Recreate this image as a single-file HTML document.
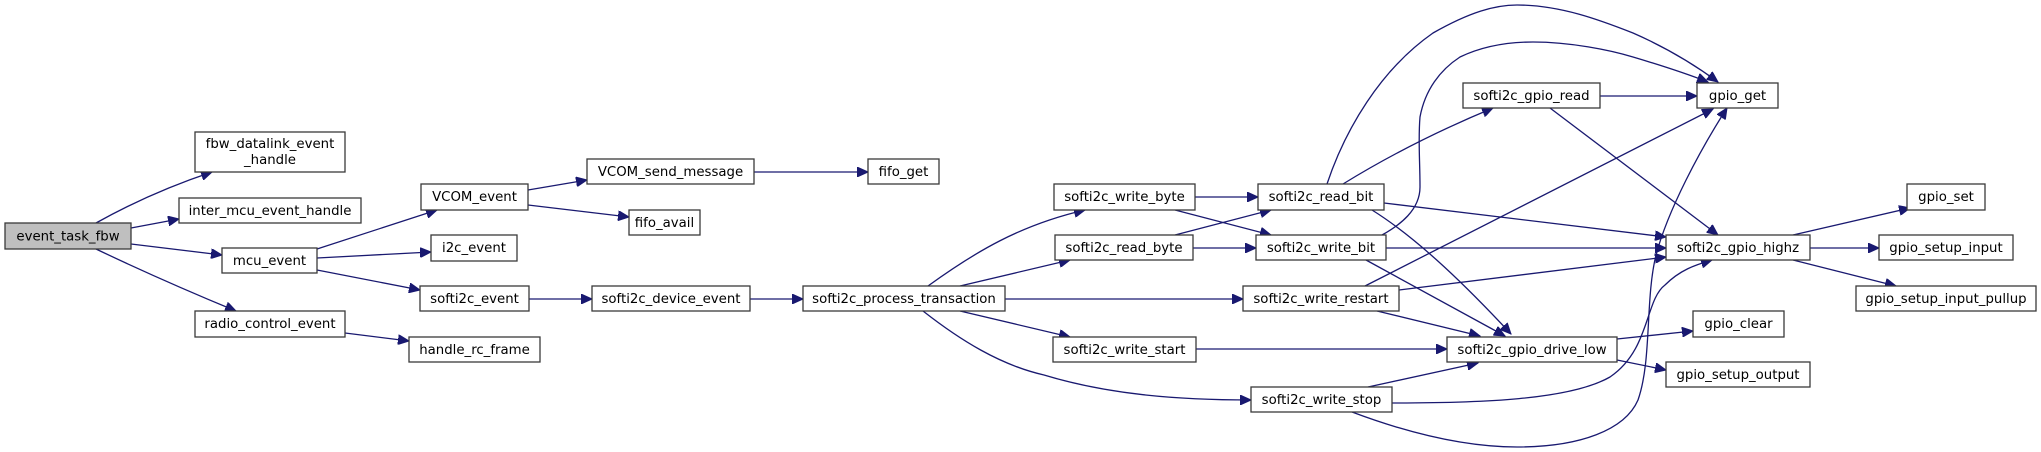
<!DOCTYPE html>
<html><head><meta charset="utf-8"><style>
html,body{margin:0;padding:0;background:#fff;}
svg{display:block;}
text{font-family:"DejaVu Sans","Liberation Sans",sans-serif;font-size:13.3px;fill:#000;}
.n{fill:#fff;stroke:#3a3a3a;stroke-width:1.3;}
.e{fill:none;stroke:#191970;stroke-width:1.3;}
</style></head><body>
<svg width="2041" height="452" viewBox="0 0 2041 452" xmlns="http://www.w3.org/2000/svg">
<defs><marker id="a" markerUnits="userSpaceOnUse" markerWidth="12" markerHeight="10" refX="11" refY="5" orient="auto"><path d="M0,0 L11,5 L0,10 Z" fill="#191970" stroke="#191970"/></marker></defs>
<g marker-end="url(#a)">
<path class="e" d="M96,223 C130,204 170,186 212,172"/>
<path class="e" d="M131,228 L179,219"/>
<path class="e" d="M131,244 L222,255"/>
<path class="e" d="M96,249 C140,270 190,292 236,311"/>
<path class="e" d="M317,249 C360,235 400,222 437,210"/>
<path class="e" d="M317,258 L431,252"/>
<path class="e" d="M317,270 L420,290"/>
<path class="e" d="M528,190 L587,180"/>
<path class="e" d="M528,205 L629,217"/>
<path class="e" d="M529,299 L592,299"/>
<path class="e" d="M345,333 L409,341"/>
<path class="e" d="M754,172 L868,172"/>
<path class="e" d="M750,299 L803,299"/>
<path class="e" d="M928,286 C975,252 1020,225 1085,210"/>
<path class="e" d="M960,286 L1070,260"/>
<path class="e" d="M1005,299 L1243,299"/>
<path class="e" d="M960,311 L1070,337"/>
<path class="e" d="M923,311 C960,340 1000,365 1044,375 C1110,395 1180,400 1251,400"/>
<path class="e" d="M1195,197 L1258,197"/>
<path class="e" d="M1175,210 L1271,235"/>
<path class="e" d="M1175,235 L1271,210"/>
<path class="e" d="M1193,248 L1256,248"/>
<path class="e" d="M1327,184 C1345,130 1380,70 1433,33 C1470,12 1495,5 1517,5 C1560,5 1600,20 1633,33 C1665,47 1695,65 1718,82"/>
<path class="e" d="M1382,235 C1400,225 1420,210 1420,187 C1420,160 1418,140 1420,117 C1425,90 1440,70 1460,57 C1485,45 1510,42 1533,42 C1570,42 1610,50 1633,57 C1660,65 1690,75 1708,82"/>
<path class="e" d="M1343,184 C1390,155 1440,130 1493,108"/>
<path class="e" d="M1384,203 L1666,237"/>
<path class="e" d="M1372,210 C1420,240 1470,290 1511,334"/>
<path class="e" d="M1386,248 L1666,248"/>
<path class="e" d="M1366,260 L1505,336"/>
<path class="e" d="M1365,286 L1713,109"/>
<path class="e" d="M1399,290 L1666,257"/>
<path class="e" d="M1377,311 L1480,336"/>
<path class="e" d="M1196,349 L1447,349"/>
<path class="e" d="M1368,387 L1478,363"/>
<path class="e" d="M1392,403 C1480,403 1570,400 1610,377 C1650,350 1645,300 1665,285 C1680,270 1695,265 1712,260"/>
<path class="e" d="M1352,412 C1400,430 1460,447 1517,447 C1580,447 1625,430 1638,400 C1652,360 1645,300 1656,255 C1668,210 1700,150 1727,108"/>
<path class="e" d="M1600,96 L1697,96"/>
<path class="e" d="M1550,108 L1718,235"/>
<path class="e" d="M1793,235 L1910,208"/>
<path class="e" d="M1810,248 L1879,248"/>
<path class="e" d="M1793,260 L1896,286"/>
<path class="e" d="M1617,339 L1693,331"/>
<path class="e" d="M1617,360 L1666,370"/>
</g>
<rect x="5" y="223" width="126" height="26" fill="#bfbfbf" stroke="#3a3a3a" stroke-width="1.3"/>
<text x="68" y="240.5" text-anchor="middle">event_task_fbw</text>
<g text-anchor="middle">
<rect class="n" x="195" y="132" width="150" height="40"/><text x="270" y="148">fbw_datalink_event</text><text x="270" y="164">_handle</text>
<rect class="n" x="179" y="198" width="182" height="25"/><text x="270" y="215">inter_mcu_event_handle</text>
<rect class="n" x="222" y="248" width="95" height="25"/><text x="269.5" y="265">mcu_event</text>
<rect class="n" x="195" y="311" width="150" height="26"/><text x="270" y="328">radio_control_event</text>
<rect class="n" x="421" y="184" width="107" height="26"/><text x="474.5" y="201">VCOM_event</text>
<rect class="n" x="431" y="235" width="86" height="26"/><text x="474" y="252">i2c_event</text>
<rect class="n" x="420" y="286" width="109" height="25"/><text x="474.5" y="303">softi2c_event</text>
<rect class="n" x="409" y="337" width="131" height="25"/><text x="474.5" y="354">handle_rc_frame</text>
<rect class="n" x="587" y="159" width="167" height="25"/><text x="670.5" y="176">VCOM_send_message</text>
<rect class="n" x="629" y="210" width="71" height="25"/><text x="664.5" y="227">fifo_avail</text>
<rect class="n" x="592" y="286" width="158" height="25"/><text x="671" y="303">softi2c_device_event</text>
<rect class="n" x="868" y="159" width="71" height="25"/><text x="903.5" y="176">fifo_get</text>
<rect class="n" x="803" y="286" width="202" height="25"/><text x="904" y="303">softi2c_process_transaction</text>
<rect class="n" x="1054" y="184" width="141" height="26"/><text x="1124.5" y="201">softi2c_write_byte</text>
<rect class="n" x="1055" y="235" width="138" height="25"/><text x="1124" y="252">softi2c_read_byte</text>
<rect class="n" x="1053" y="337" width="143" height="25"/><text x="1124.5" y="354">softi2c_write_start</text>
<rect class="n" x="1258" y="184" width="126" height="26"/><text x="1321" y="201">softi2c_read_bit</text>
<rect class="n" x="1256" y="235" width="130" height="25"/><text x="1321" y="252">softi2c_write_bit</text>
<rect class="n" x="1243" y="286" width="156" height="25"/><text x="1321" y="303">softi2c_write_restart</text>
<rect class="n" x="1251" y="387" width="141" height="25"/><text x="1321.5" y="404">softi2c_write_stop</text>
<rect class="n" x="1463" y="83" width="137" height="25"/><text x="1531.5" y="100">softi2c_gpio_read</text>
<rect class="n" x="1697" y="83" width="81" height="25"/><text x="1737.5" y="100">gpio_get</text>
<rect class="n" x="1666" y="235" width="144" height="25"/><text x="1738" y="252">softi2c_gpio_highz</text>
<rect class="n" x="1447" y="337" width="170" height="25"/><text x="1532" y="354">softi2c_gpio_drive_low</text>
<rect class="n" x="1693" y="311" width="91" height="26"/><text x="1738.5" y="328">gpio_clear</text>
<rect class="n" x="1666" y="362" width="144" height="25"/><text x="1738" y="379">gpio_setup_output</text>
<rect class="n" x="1907" y="184" width="78" height="26"/><text x="1946" y="201">gpio_set</text>
<rect class="n" x="1879" y="235" width="134" height="25"/><text x="1946" y="252">gpio_setup_input</text>
<rect class="n" x="1856" y="286" width="180" height="25"/><text x="1946" y="303">gpio_setup_input_pullup</text>
</g>
</svg>
</body></html>
